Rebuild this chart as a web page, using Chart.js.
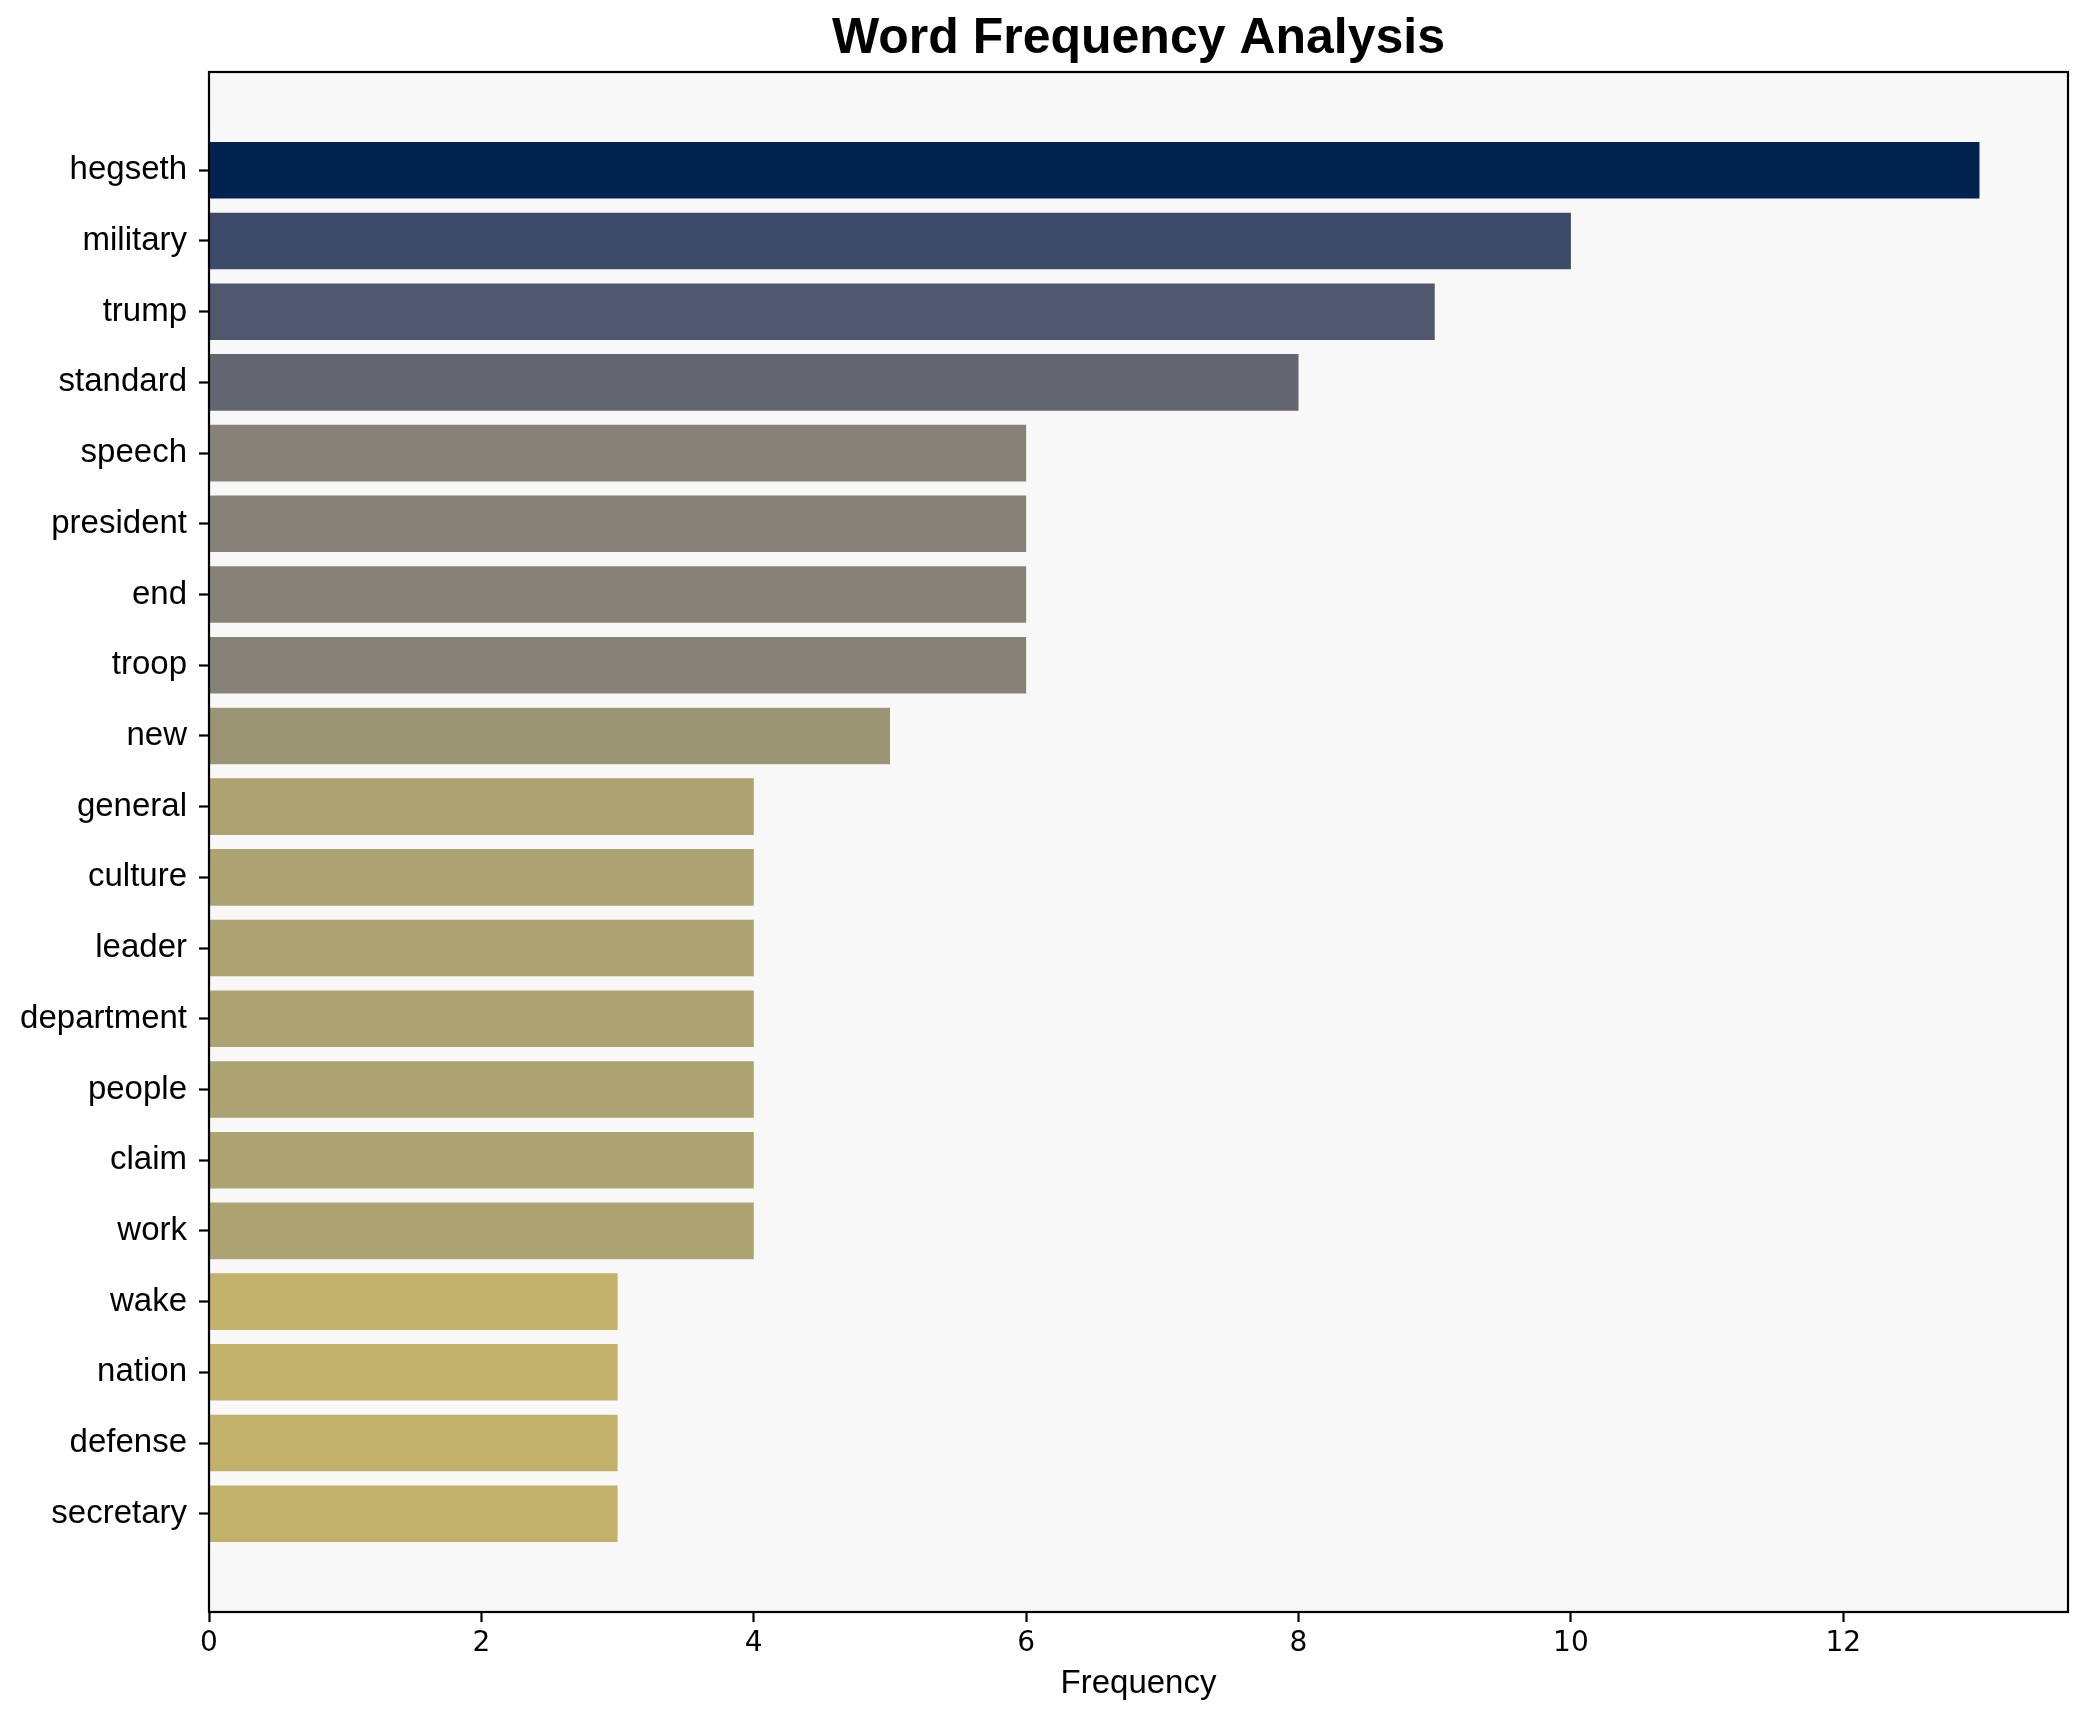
<!DOCTYPE html>
<html>
<head>
<meta charset="utf-8">
<title>Word Frequency Analysis</title>
<script src="https://cdn.jsdelivr.net/npm/chart.js@4.4.1/dist/chart.umd.min.js"></script>
<style>
    html, body { margin: 0; padding: 0; background: #ffffff; }
    canvas { display: block; }
</style>
</head>
<body>
<canvas id="wordChart" width="2088" height="1722"></canvas>
<script>
// values
const words = ['hegseth', 'military', 'trump', 'standard', 'speech', 'president', 'end', 'troop', 'new',
    'general', 'culture', 'leader', 'department', 'people', 'claim', 'work', 'wake', 'nation', 'defense', 'secretary'];
const counts = [13, 10, 9, 8, 6, 6, 6, 6, 5, 4, 4, 4, 4, 4, 4, 4, 3, 3, 3, 3];
const xTicks = [0, 2, 4, 6, 8, 10, 12];

// bar colours (cividis-like shades)
const barColors = ['#00224e', '#3d4b6b', '#50576d', '#636570', '#868278', '#868278', '#868278', '#868278',
    '#9a9475', '#aca272', '#aca272', '#aca272', '#aca272', '#aca272', '#aca272', '#aca272',
    '#c1b16a', '#c1b16a', '#c1b16a', '#c1b16a'];

const sansFont = '"Liberation Sans", Arial, sans-serif';

// light plot background and a full black frame, like matplotlib spines
const framePlugin = {
    id: 'frame',
    beforeDatasetsDraw(chart) {
        const { ctx, chartArea: a } = chart;
        ctx.save();
        ctx.fillStyle = '#f8f8f8';
        ctx.fillRect(a.left, a.top, a.right - a.left, a.bottom - a.top);
        ctx.restore();
    },
    afterDatasetsDraw(chart) {
        const { ctx, chartArea: a } = chart;
        ctx.save();
        ctx.strokeStyle = '#000000';
        ctx.lineWidth = 2.2;
        ctx.strokeRect(a.left, a.top, a.right - a.left, a.bottom - a.top);
        ctx.restore();
    }
};

const ctx = document.getElementById('wordChart').getContext('2d');

new Chart(ctx, {
    type: 'bar',
    data: {
        datasets: [{
            label: 'Frequency',
            data: counts.map((c, i) => ({ x: c, y: i })),
            backgroundColor: barColors,
            borderWidth: 0,
            barPercentage: 0.8,
            categoryPercentage: 1.0,
        }],
    },
    options: {
        indexAxis: 'y',
        responsive: false,
        animation: false,
        devicePixelRatio: 1,
        layout: { padding: { top: 0, left: 0, right: 20, bottom: 0 } },
        plugins: {
            legend: { display: false },
            tooltip: { enabled: false },
            title: {
                display: true,
                text: 'Word Frequency Analysis',
                fullSize: false,
                color: '#000000',
                font: { family: sansFont, size: 50, weight: 'bold' },
                padding: { top: 9.5, bottom: 2.5 },
            },
        },
        scales: {
            x: {
                type: 'linear',
                position: 'bottom',
                min: 0,
                max: 13.65,
                afterBuildTicks: (axis) => { axis.ticks = xTicks.map(v => ({ value: v })); },
                afterFit: (axis) => { axis.height = 110; },
                grid: { drawOnChartArea: false, drawTicks: true, tickLength: 10, tickWidth: 2.2, tickColor: '#000000' },
                border: { display: false },
                ticks: {
                    color: '#000000',
                    padding: 5,
                    font: { family: '"DejaVu Sans", sans-serif', size: 28 },
                },
                title: {
                    display: true,
                    text: 'Frequency',
                    color: '#000000',
                    font: { family: sansFont, size: 33 },
                    padding: { top: 0, bottom: 18.6 },
                },
            },
            y: {
                type: 'linear',
                position: 'left',
                reverse: true,
                offset: false,
                min: -1.39,
                max: 20.39,
                afterBuildTicks: (axis) => { axis.ticks = words.map((w, i) => ({ value: i })); },
                afterFit: (axis) => { axis.width = 209; },
                grid: { offset: false, drawOnChartArea: false, drawTicks: true, tickLength: 10, tickWidth: 2.2, tickColor: '#000000' },
                border: { display: false },
                ticks: {
                    autoSkip: false,
                    color: '#000000',
                    padding: 12,
                    font: { family: sansFont, size: 33 },
                    callback: (value) => words[value],
                },
            },
        },
    },
    plugins: [framePlugin],
});
</script>
</body>
</html>
